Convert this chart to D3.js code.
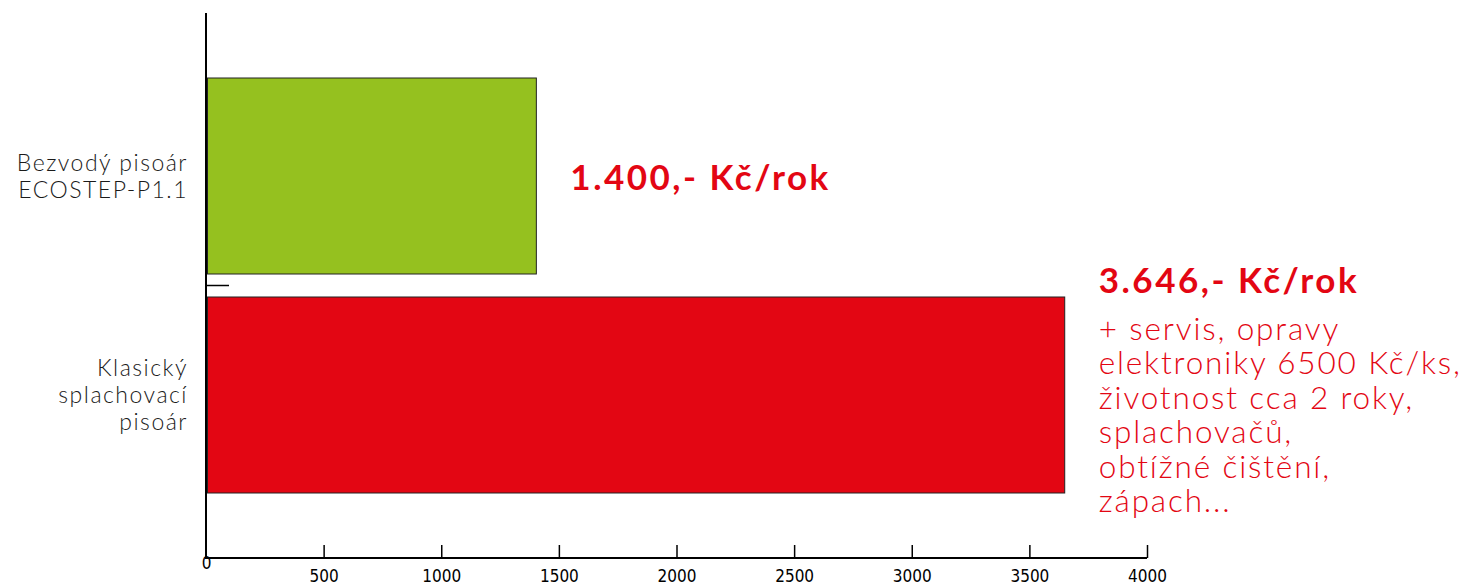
<!DOCTYPE html>
<html><head><meta charset="utf-8">
<script src="https://cdn.jsdelivr.net/npm/d3@7"></script>
<style>
body{margin:0;background:#fff;}
svg{display:block;}
.cat{font-family:Lato,"Open Sans",sans-serif;font-weight:300;font-size:23px;letter-spacing:1.5px;fill:#1a1a1a;}
.val{font-family:Lato,"Open Sans",sans-serif;font-weight:700;font-size:35px;letter-spacing:2.5px;fill:#e30613;}
.note{font-family:Lato,"Open Sans",sans-serif;font-weight:300;font-size:31.5px;letter-spacing:1.85px;fill:#e30613;}
.tick text{font-family:"Liberation Sans Narrow","DejaVu Sans Condensed",sans-serif;font-size:17px;fill:#000;}
</style></head><body>
<svg id="c" width="1470" height="587"></svg>
<script>
const categories = [["Bezvodý pisoár","ECOSTEP-P1.1"],["Klasický","splachovací","pisoár"]];
const values = [1400, 3646];
const colors = ["#95c11f","#e30613"];
const valueLabels = ["1.400,- Kč/rok","3.646,- Kč/rok"];
const noteLines = ["+ servis, opravy","elektroniky 6500 Kč/ks,","životnost cca 2 roky,","splachovačů,","obtížné čištění,","zápach..."];
const xTicks = [0,500,1000,1500,2000,2500,3000,3500,4000];

const svg = d3.select("#c");
const x = d3.scaleLinear().domain([0,4000]).range([206,1147]);
const y = d3.scaleBand().domain([0,1]).range([78,493]).paddingInner(0.105);

// bars
svg.selectAll("rect.bar").data(values).join("rect")
  .attr("x", x(0)+1.5).attr("y",(d,i)=>y(i)).attr("width",d=>x(d)-x(0)-0.5).attr("height",y.bandwidth())
  .attr("fill",(d,i)=>colors[i]).attr("stroke","#222").attr("stroke-width",1);

// x axis
const xAxis = d3.axisBottom(x).tickValues(xTicks).tickSize(-13).tickPadding(6).tickFormat(d3.format("d"));
const gx = svg.append("g").attr("transform","translate(0,558)").call(xAxis);
gx.select(".domain").attr("stroke","#000").attr("stroke-width",2).attr("d","M206,0H1147");
gx.selectAll(".tick line").attr("stroke","#000").attr("stroke-width",1.5);
gx.selectAll(".tick").filter(d=>d===0).select("line").remove();
gx.selectAll(".tick text").attr("y",(d)=>d===0?-1:12).attr("dy","0.71em");

// y axis line
svg.append("line").attr("x1",206).attr("x2",206).attr("y1",13).attr("y2",559).attr("stroke","#000").attr("stroke-width",2);
// separator tick between categories
const sepY = (y(0)+y.bandwidth()+y(1))/2;
svg.append("line").attr("x1",206).attr("x2",229).attr("y1",sepY).attr("y2",sepY).attr("stroke","#000").attr("stroke-width",1.5);

// category labels
categories.forEach((lines,i)=>{
  const cy = y(i)+y.bandwidth()/2;
  const lh = 27;
  const t = svg.append("text").attr("class","cat").attr("text-anchor","end");
  lines.forEach((l,j)=>{
    t.append("tspan").attr("x",188).attr("y", cy + (j-(lines.length-1)/2)*lh + 8).text(l);
  });
});

// value labels
svg.append("text").attr("class","val").attr("x",x(values[0])+35).attr("y",y(0)+y.bandwidth()/2+14).text(valueLabels[0]);
svg.append("text").attr("class","val").attr("x",x(values[1])+35).attr("y",y(1)-4).text(valueLabels[1]);
const nt = svg.append("text").attr("class","note");
noteLines.forEach((l,j)=>{
  nt.append("tspan").attr("x",x(values[1])+35).attr("y",y(1)+43+j*34.5).text(l);
});
</script>
</body></html>
